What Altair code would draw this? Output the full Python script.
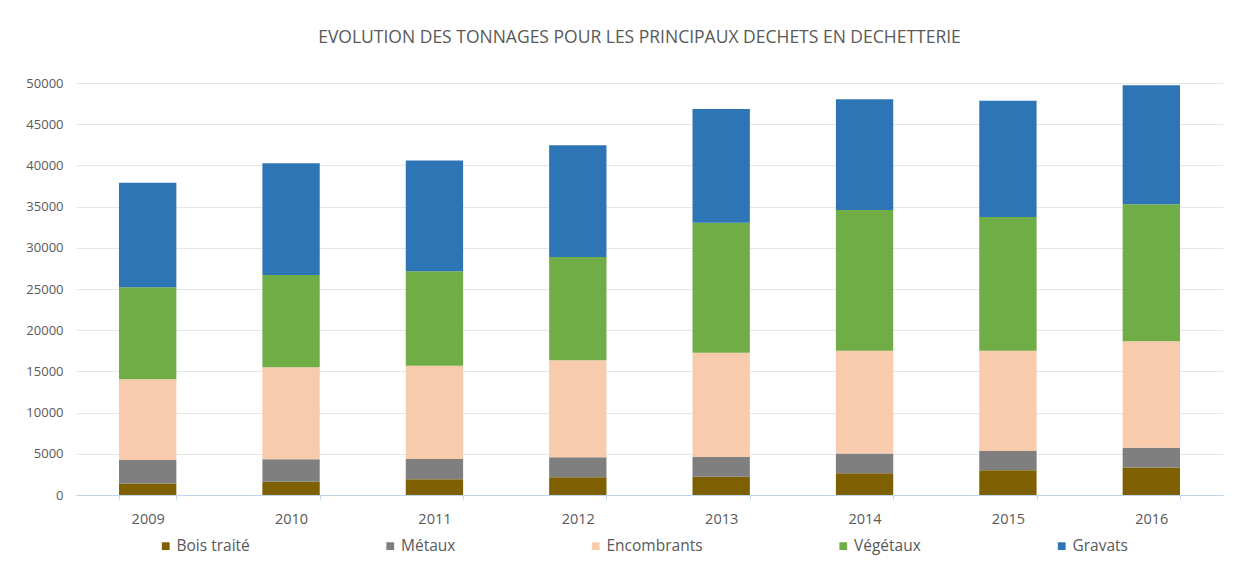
import altair as alt
import pandas as pd

annees = ["2009", "2010", "2011", "2012", "2013", "2014", "2015", "2016"]
categories = ["Bois traité", "Métaux", "Encombrants", "Végétaux", "Gravats"]
couleurs = ["#7f6000", "#7f7f7f", "#f8cbad", "#70ad47", "#2e75b6"]

bois = [1400, 1600, 1900, 2150, 2200, 2630, 3000, 3350]
metaux = [2850, 2750, 2470, 2430, 2400, 2420, 2350, 2390]
encombrants = [9800, 11150, 11310, 11760, 12650, 12450, 12150, 12930]
vegetaux = [11150, 11200, 11480, 12530, 15800, 17100, 16250, 16620]
gravats = [12700, 13550, 13420, 13580, 13790, 13420, 14110, 14430]

series = [bois, metaux, encombrants, vegetaux, gravats]
rows = []
for i, (cat, vals) in enumerate(zip(categories, series)):
    for a, v in zip(annees, vals):
        rows.append({"Année": a, "Déchet": cat, "Tonnage": v, "ordre": i})
df = pd.DataFrame(rows)

FONT = "Open Sans"
GREY = "#595959"

chart = alt.Chart(df).mark_bar().encode(
    x=alt.X("Année:N", sort=annees, title=None,
            scale=alt.Scale(paddingInner=0.6, paddingOuter=0.3),
            axis=alt.Axis(labelAngle=0, tickBand="extent",
                          domainColor="#bdd7ee", tickColor="#bdd7ee", tickSize=4,
                          labelColor=GREY, labelFont=FONT, labelFontSize=14.5,
                          labelPadding=13, grid=False)),
    y=alt.Y("Tonnage:Q", title=None, stack="zero",
            scale=alt.Scale(domain=[0, 50000], nice=False),
            axis=alt.Axis(values=list(range(0, 50001, 5000)), format="d",
                          domain=False, ticks=False, labelPadding=13,
                          labelColor=GREY, labelFont=FONT, labelFontSize=13,
                          gridColor="#e6e6e6", gridWidth=1)),
    color=alt.Color("Déchet:N", sort=categories,
                    scale=alt.Scale(domain=categories, range=couleurs),
                    legend=alt.Legend(title=None, orient="none", direction="horizontal",
                                      legendX=82, legendY=455,
                                      symbolType="square", symbolSize=60,
                                      symbolStrokeWidth=0, labelOffset=3,
                                      columnPadding=132.5, padding=0,
                                      labelColor=GREY, labelFont=FONT, labelFontSize=15.5)),
    order=alt.Order("ordre:Q", sort="ascending"),
).properties(
    width=1147,
    height=412,
    title=alt.TitleParams("EVOLUTION DES TONNAGES POUR LES PRINCIPAUX DECHETS EN DECHETTERIE",
                          font=FONT, fontSize=17.5, fontWeight="normal", color=GREY,
                          anchor="middle", offset=31, dx=-10),
    autosize=alt.AutoSizeParams(type="none"),
    padding={"left": 68, "top": 75, "right": 10, "bottom": 60},
).configure_view(stroke=None)

chart.save("out.html", embed_options={"renderer": "svg", "actions": False})
